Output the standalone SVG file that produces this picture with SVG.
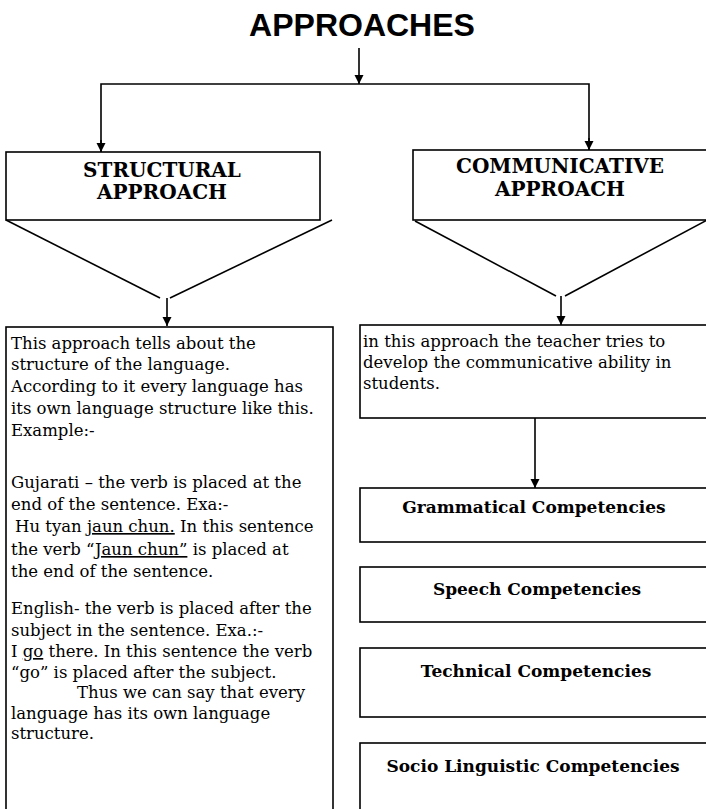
<svg xmlns="http://www.w3.org/2000/svg" width="706" height="809" viewBox="0 0 706 809">
<defs>
<style>
.ln{stroke:#000;stroke-width:1.6;fill:none}
.bx{stroke:#000;stroke-width:1.6;fill:#fff}
.ttl{font-family:"Liberation Sans",Arial,sans-serif;font-weight:bold;font-size:32px;fill:#000}
.hd{font-family:"DejaVu Serif","Liberation Serif",serif;font-weight:bold;font-size:20px;fill:#000}
.bd{font-family:"DejaVu Serif","Liberation Serif",serif;font-size:16.5px;fill:#000}
.cp{font-family:"DejaVu Serif","Liberation Serif",serif;font-weight:bold;font-size:17px;fill:#000}
.u{text-decoration:underline}
</style>
<marker id="ah" markerUnits="userSpaceOnUse" markerWidth="10" markerHeight="10" refX="9" refY="5" orient="auto">
<path d="M0,0.5 L9,5 L0,9.5 z" fill="#000"/>
</marker>
</defs>
<rect width="706" height="809" fill="#fff"/>

<g id="title">
<text class="ttl" x="362" y="36" text-anchor="middle">APPROACHES</text>
</g>

<g id="connectors">
<line class="ln" x1="359" y1="48" x2="359" y2="84" marker-end="url(#ah)"/>
<polyline class="ln" points="101,152 101,84 589,84 589,150"/>
<line class="ln" x1="101" y1="140" x2="101" y2="152" marker-end="url(#ah)"/>
<line class="ln" x1="589" y1="138" x2="589" y2="150" marker-end="url(#ah)"/>
<line class="ln" x1="167" y1="298" x2="167" y2="326" marker-end="url(#ah)"/>
<line class="ln" x1="561" y1="296" x2="561" y2="325" marker-end="url(#ah)"/>
<line class="ln" x1="535" y1="418" x2="535" y2="488" marker-end="url(#ah)"/>
</g>

<g id="structural">
<rect class="bx" x="6" y="152" width="314" height="68"/>
<text class="hd" x="162" y="177" text-anchor="middle">STRUCTURAL</text>
<text class="hd" x="162" y="199" text-anchor="middle">APPROACH</text>
<polyline class="ln" points="6,220 160,298"/>
<polyline class="ln" points="332,220 170,298"/>
</g>

<g id="communicative">
<rect class="bx" x="413" y="150" width="300" height="70"/>
<text class="hd" x="560" y="173" text-anchor="middle">COMMUNICATIVE</text>
<text class="hd" x="560" y="196" text-anchor="middle">APPROACH</text>
<polyline class="ln" points="415,221 556,296"/>
<polyline class="ln" points="707,220 565,296"/>
</g>

<g id="structural-text">
<rect class="bx" x="6" y="327" width="327" height="500"/>
<text class="bd">
<tspan x="11" y="349">This approach tells about the</tspan>
<tspan x="11" y="370">structure of the language.</tspan>
<tspan x="11" y="392">According to it every language has</tspan>
<tspan x="11" y="414">its own language structure like this.</tspan>
<tspan x="11" y="436">Example:-</tspan>
<tspan x="11" y="488">Gujarati – the verb is placed at the</tspan>
<tspan x="11" y="510">end of the sentence. Exa:-</tspan>
<tspan x="15" y="532">Hu tyan <tspan class="u">jaun chun.</tspan> In this sentence</tspan>
<tspan x="11" y="555">the verb “<tspan class="u">Jaun chun”</tspan> is placed at</tspan>
<tspan x="11" y="577">the end of the sentence.</tspan>
<tspan x="11" y="614">English- the verb is placed after the</tspan>
<tspan x="11" y="636">subject in the sentence. Exa.:-</tspan>
<tspan x="11" y="657">I <tspan class="u">go</tspan> there. In this sentence the verb</tspan>
<tspan x="11" y="678">“go” is placed after the subject.</tspan>
<tspan x="77" y="698">Thus we can say that every</tspan>
<tspan x="11" y="719">language has its own language</tspan>
<tspan x="11" y="739">structure.</tspan>
</text>
</g>

<g id="communicative-text">
<rect class="bx" x="360" y="325" width="360" height="93"/>
<text class="bd">
<tspan x="363" y="347">in this approach the teacher tries to</tspan>
<tspan x="363" y="368">develop the communicative ability in</tspan>
<tspan x="363" y="389">students.</tspan>
</text>
</g>

<g id="grammatical">
<rect class="bx" x="360" y="488" width="360" height="54"/>
<text class="cp" x="534" y="513" text-anchor="middle">Grammatical Competencies</text>
</g>

<g id="speech">
<rect class="bx" x="360" y="567" width="360" height="55"/>
<text class="cp" x="537" y="595" text-anchor="middle">Speech Competencies</text>
</g>

<g id="technical">
<rect class="bx" x="360" y="648" width="360" height="69"/>
<text class="cp" x="536" y="677" text-anchor="middle">Technical Competencies</text>
</g>

<g id="socio">
<rect class="bx" x="360" y="743" width="360" height="90"/>
<text class="cp" x="533" y="772" text-anchor="middle">Socio Linguistic Competencies</text>
</g>
</svg>
